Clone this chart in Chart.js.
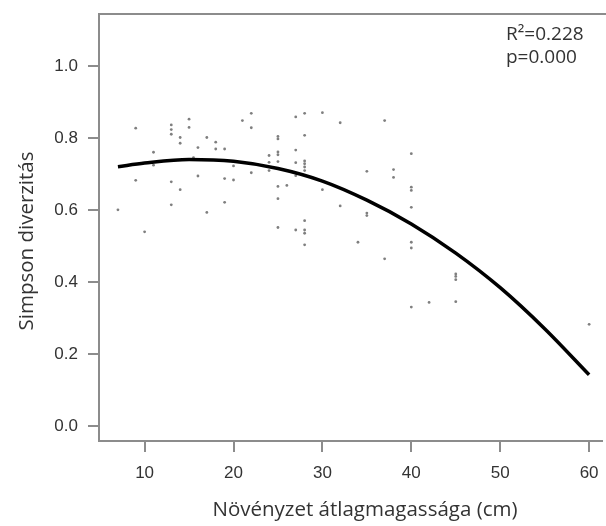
<!DOCTYPE html>
<html>
<head>
<meta charset="utf-8">
<script src="https://cdn.jsdelivr.net/npm/chart.js@4/dist/chart.umd.min.js"></script>
<style>
  html, body { margin: 0; padding: 0; background: #ffffff; }
  #wrap { width: 606px; height: 526px; position: relative; }
</style>
</head>
<body>
<div id="wrap"><canvas id="c" width="606" height="526"></canvas></div>
<script>
// ---- data ----
const pointX = [7, 9, 9, 10, 11, 11, 13, 13, 13, 13, 13, 14, 14, 14, 15, 15, 15.5, 16, 16, 17, 17,
  18, 18, 19, 19, 19, 20, 20, 21, 22, 22, 22, 24, 24, 24,
  25, 25, 25, 25, 25, 25, 25, 25, 26, 27, 27, 27, 27, 27,
  28, 28, 28, 28, 28, 28, 28, 28, 28, 28, 30, 30, 32, 32, 34,
  35, 35, 35, 37, 37, 38, 38, 40, 40, 40, 40, 40, 40, 40, 42,
  45, 45, 45, 45, 60];
const pointY = [0.600, 0.827, 0.682, 0.539, 0.760, 0.724, 0.836, 0.823, 0.810, 0.678, 0.614, 0.801, 0.785, 0.656, 0.852, 0.829, 0.745, 0.773, 0.694, 0.801, 0.593,
  0.788, 0.769, 0.769, 0.687, 0.621, 0.722, 0.683, 0.848, 0.868, 0.828, 0.703, 0.751, 0.732, 0.709,
  0.804, 0.797, 0.761, 0.753, 0.734, 0.665, 0.631, 0.551, 0.668, 0.858, 0.766, 0.731, 0.695, 0.544,
  0.868, 0.807, 0.736, 0.728, 0.719, 0.709, 0.570, 0.544, 0.535, 0.503, 0.870, 0.656, 0.842, 0.611, 0.510,
  0.707, 0.591, 0.584, 0.848, 0.464, 0.712, 0.690, 0.756, 0.663, 0.654, 0.607, 0.510, 0.494, 0.330, 0.343,
  0.422, 0.415, 0.406, 0.345, 0.282];
// fitted curve
const curveX = [7, 10, 15, 20, 25, 30, 35, 40, 45, 50, 55, 60];
const curveY = [0.720, 0.730, 0.740, 0.735, 0.715, 0.680, 0.627, 0.561, 0.480, 0.384, 0.270, 0.142];
const xTicks = [10, 20, 30, 40, 50, 60];
const yTicks = [0.0, 0.2, 0.4, 0.6, 0.8, 1.0];
const xTitle = 'Növényzet átlagmagassága (cm)';
const yTitle = 'Simpson diverzitás';
const annotLines = ['R²=0.228', 'p=0.000'];

const AXIS_COL = '#8c8c8c';
const TEXT_COL = '#333333';

const framePlugin = {
  id: 'frame',
  afterDraw(chart) {
    const ctx = chart.ctx, a = chart.chartArea;
    ctx.save();
    // top line of the box
    ctx.strokeStyle = AXIS_COL;
    ctx.lineWidth = 2;
    ctx.beginPath();
    ctx.moveTo(a.left - 1, a.top);
    ctx.lineTo(chart.width, a.top);
    ctx.stroke();
    // axis titles
    ctx.fillStyle = TEXT_COL;
    ctx.font = '20.5px "Open Sans"';
    ctx.textAlign = 'center';
    ctx.textBaseline = 'middle';
    ctx.fillText(xTitle, 365, 510);
    ctx.save();
    ctx.translate(27, 241);
    ctx.rotate(-Math.PI / 2);
    ctx.fillText(yTitle, 0, 0);
    ctx.restore();
    // annotation
    ctx.textAlign = 'left';
    ctx.textBaseline = 'alphabetic';
    ctx.font = '19px "Open Sans"';
    ctx.fillText(annotLines[0], 506, 40);
    ctx.fillText(annotLines[1], 506, 63);
    ctx.restore();
  }
};

new Chart(document.getElementById('c'), {
  data: {
    datasets: [
      {
        type: 'line',
        data: curveX.map((x, i) => ({ x: x, y: curveY[i] })),
        borderColor: '#000000',
        borderWidth: 3.5,
        pointRadius: 0,
        cubicInterpolationMode: 'monotone',
        fill: false,
        order: 0
      },
      {
        type: 'scatter',
        data: pointX.map((x, i) => ({ x: x, y: pointY[i] })),
        backgroundColor: '#7f7f7f',
        borderWidth: 0,
        pointRadius: 1.4,
        order: 1
      }
    ]
  },
  options: {
    responsive: false,
    animation: false,
    layout: { padding: { top: 14, right: 0, left: 0, bottom: 0 } },
    plugins: { legend: { display: false }, tooltip: { enabled: false } },
    scales: {
      x: {
        type: 'linear',
        min: 4.87,
        max: 61.45,
        afterBuildTicks: s => { s.ticks = xTicks.map(v => ({ value: v })); },
        afterFit: s => { s.height = 85; s.paddingLeft = 0; s.paddingRight = 0; },
        border: { display: true, color: AXIS_COL, width: 2 },
        grid: { drawOnChartArea: false, drawTicks: true, tickLength: 11, color: AXIS_COL, lineWidth: 2 },
        ticks: { color: TEXT_COL, font: { family: '"Liberation Sans", Arial', size: 17 }, padding: 11, maxRotation: 0, autoSkip: false }
      },
      y: {
        type: 'linear',
        min: -0.042,
        max: 1.144,
        afterBuildTicks: s => { s.ticks = yTicks.map(v => ({ value: v })); },
        afterFit: s => { s.width = 99; s.paddingTop = 0; s.paddingBottom = 0; },
        border: { display: true, color: AXIS_COL, width: 2 },
        grid: { drawOnChartArea: false, drawTicks: true, tickLength: 11, color: AXIS_COL, lineWidth: 2 },
        ticks: { color: TEXT_COL, font: { family: '"Liberation Sans", Arial', size: 17 }, padding: 10, autoSkip: false,
                 callback: v => Number(v).toFixed(1) }
      }
    }
  },
  plugins: [framePlugin]
});
</script>
</body>
</html>
